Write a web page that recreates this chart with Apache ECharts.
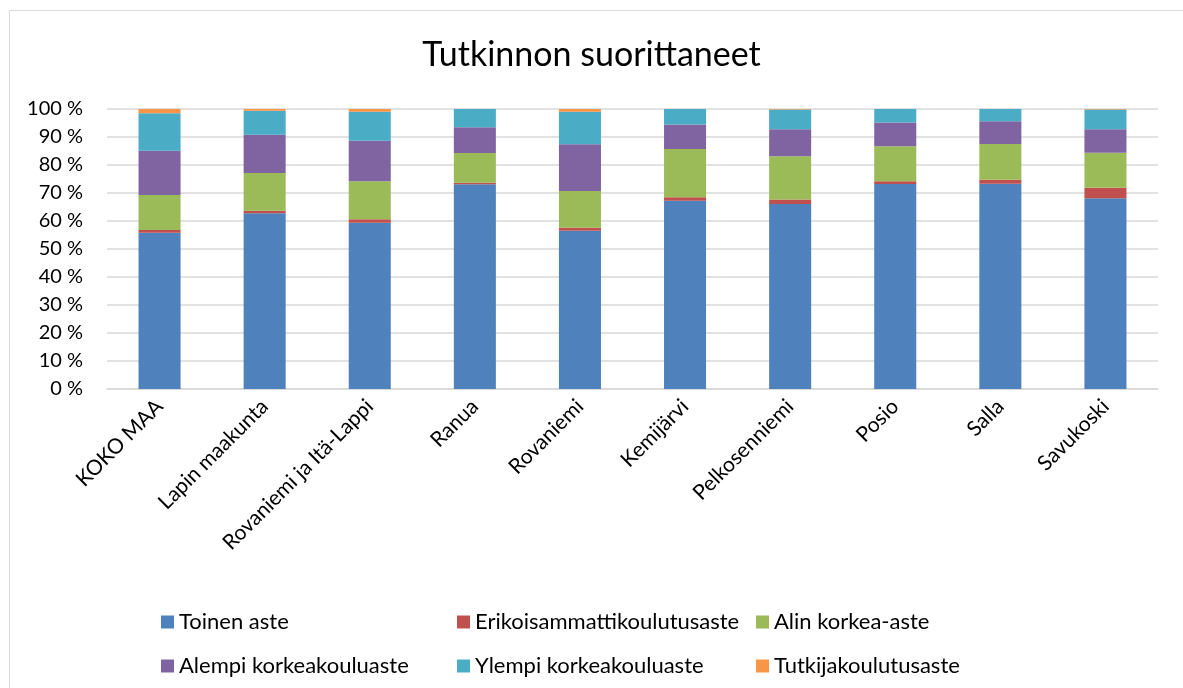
<!DOCTYPE html>
<html>
<head>
<meta charset="utf-8">
<script src="https://cdn.jsdelivr.net/npm/echarts@6/dist/echarts.min.js"></script>
<style>
    html, body { margin: 0; padding: 0; background: #fff; }
    #chart { width: 1183px; height: 688px; }
</style>
</head>
<body>
<div id="chart"></div>
<script>
const categories = ['KOKO MAA', 'Lapin maakunta', 'Rovaniemi ja Itä-Lappi', 'Ranua', 'Rovaniemi',
    'Kemijärvi', 'Pelkosenniemi', 'Posio', 'Salla', 'Savukoski'];

// osuudet prosentteina
const toinenAste = [55.8, 62.8, 59.4, 73.1, 56.5, 67.2, 66.1, 73.2, 73.3, 68.1];
const erikoisammatti = [1.0, 0.9, 1.2, 0.6, 1.1, 1.3, 1.6, 1.0, 1.4, 3.8];
const alinKorkea = [12.5, 13.4, 13.6, 10.6, 13.1, 17.2, 15.4, 12.5, 12.8, 12.5];
const alempiKorkeakoulu = [15.8, 13.7, 14.5, 9.2, 16.7, 8.8, 9.7, 8.5, 8.1, 8.4];
const ylempiKorkeakoulu = [13.4, 8.6, 10.3, 6.5, 11.6, 5.5, 7.0, 4.8, 4.4, 7.0];
const tutkija = [1.5, 0.6, 1.0, 0.0, 1.0, 0.0, 0.2, 0.0, 0.0, 0.2];

const yTicks = [0, 10, 20, 30, 40, 50, 60, 70, 80, 90, 100];

const seriesNames = ['Toinen aste', 'Erikoisammattikoulutusaste', 'Alin korkea-aste',
    'Alempi korkeakouluaste', 'Ylempi korkeakouluaste', 'Tutkijakoulutusaste'];
const seriesData = [toinenAste, erikoisammatti, alinKorkea, alempiKorkeakoulu, ylempiKorkeakoulu, tutkija];
const colors = ['#4F81BD', '#C0504D', '#9BBB59', '#8064A2', '#4BACC6', '#F79646'];

const font = 'Lato, "Open Sans", sans-serif';

// selitteen sijainnit: kolme saraketta, kaksi riviä
const legendLeft = [156, 452, 751];
const legendTop = [606, 650];

const chart = echarts.init(document.getElementById('chart'));

const legends = seriesNames.map((name, i) => ({
    left: legendLeft[i % 3],
    top: legendTop[Math.floor(i / 3)],
    icon: 'rect',
    itemWidth: 13,
    itemHeight: 13,
    data: [name],
    textStyle: {
        fontFamily: font,
        fontSize: 22,
        color: '#000',
    },
}));

const option = {
    color: colors,
    textStyle: { fontFamily: font },
    animation: false,
    title: {
        text: 'Tutkinnon suorittaneet',
        left: 'center',
        top: 33,
        textStyle: {
            fontFamily: font,
            fontSize: 34,
            fontWeight: 'normal',
            color: '#000',
        },
    },
    graphic: [
        {
            type: 'rect',
            shape: { x: 9.5, y: 10.5, width: 1200, height: 700 },
            style: { fill: 'none', stroke: '#d9d9d9', lineWidth: 1 },
            silent: true,
        },
    ],
    legend: legends,
    grid: {
        left: 107,
        right: 25,
        top: 109,
        bottom: 299,
        containLabel: false,
    },
    xAxis: {
        type: 'category',
        data: categories,
        axisLine: { show: true, lineStyle: { color: '#d9d9d9', width: 1.5 } },
        axisTick: { show: false },
        axisLabel: {
            rotate: 45,
            interval: 0,
            fontFamily: font,
            fontSize: 21,
            color: '#000',
            margin: 14,
        },
    },
    yAxis: {
        type: 'value',
        min: yTicks[0],
        max: yTicks[yTicks.length - 1],
        interval: 10,
        axisLine: { show: false },
        axisTick: { show: false },
        splitLine: { lineStyle: { color: '#d9d9d9', width: 1.5 } },
        axisLabel: {
            formatter: '{value} %',
            fontFamily: font,
            fontSize: 20,
            color: '#000',
            margin: 24,
        },
    },
    series: seriesNames.map((name, i) => ({
        name: name,
        type: 'bar',
        stack: 'total',
        barWidth: '40%',
        data: seriesData[i],
        itemStyle: { color: colors[i] },
    })),
};

chart.setOption(option);
</script>
</body>
</html>
